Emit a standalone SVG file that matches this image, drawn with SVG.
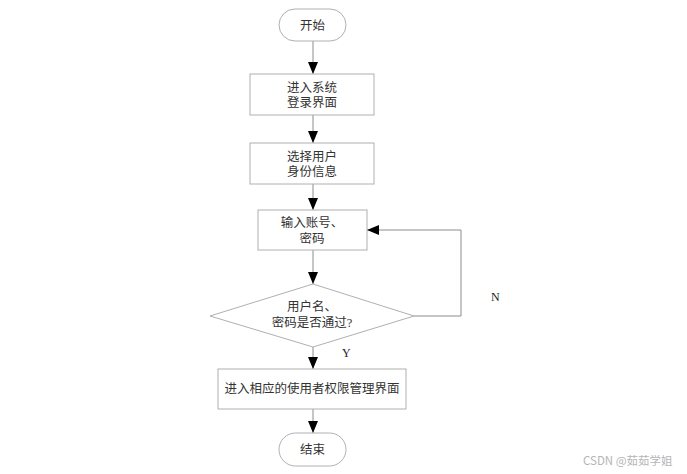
<svg xmlns="http://www.w3.org/2000/svg" width="687" height="474" viewBox="0 0 687 474">
<style>
.n{fill:#fff;stroke:#b0b0b0;stroke-width:1}
.t{font-family:"Liberation Serif","Noto Sans CJK SC",serif;font-size:12.5px;fill:#333;text-anchor:middle}
.c{fill:none;stroke:#8c8c8c;stroke-width:1}
.l{font-family:"Liberation Serif",serif;font-size:12px;fill:#222}
</style>
<defs>
<marker id="ah" viewBox="0 0 12 10" refX="12" refY="5" markerWidth="12" markerHeight="10" markerUnits="userSpaceOnUse" orient="auto">
<path d="M0,0 L12,5 L0,10 Z" fill="#000"/>
</marker>
</defs>
<rect width="687" height="474" fill="#fff"/>
<g id="connectors">
<line class="c" x1="313" y1="41" x2="313" y2="74" marker-end="url(#ah)"/>
<line class="c" x1="313" y1="115" x2="313" y2="143" marker-end="url(#ah)"/>
<line class="c" x1="313" y1="184" x2="313" y2="210" marker-end="url(#ah)"/>
<line class="c" x1="313" y1="250" x2="313" y2="284" marker-end="url(#ah)"/>
<line class="c" x1="313" y1="347" x2="313" y2="369" marker-end="url(#ah)"/>
<line class="c" x1="313" y1="409" x2="313" y2="433" marker-end="url(#ah)"/>
<polyline class="c" points="414,316 461,316 461,230 367,230" marker-end="url(#ah)"/>
<text class="l" x="491" y="301">N</text>
<text class="l" x="342" y="357">Y</text>
</g>
<g id="start">
<rect class="n" x="279" y="9" width="67" height="32" rx="16" ry="16"/>
<text class="t" x="312.5" y="29.5">开始</text>
</g>
<g id="login">
<rect class="n" x="250" y="74" width="124" height="41"/>
<text class="t" x="312" y="92">进入系统</text>
<text class="t" x="312" y="107">登录界面</text>
</g>
<g id="select">
<rect class="n" x="250" y="143" width="124" height="41"/>
<text class="t" x="312" y="161">选择用户</text>
<text class="t" x="312" y="176">身份信息</text>
</g>
<g id="input">
<rect class="n" x="258" y="210" width="109" height="40"/>
<text class="t" x="312" y="227">输入账号、</text>
<text class="t" x="312" y="243">密码</text>
</g>
<g id="check">
<polygon class="n" points="313,284 414,316 313,347 210,316"/>
<text class="t" x="312" y="311">用户名、</text>
<text class="t" x="312" y="327">密码是否通过?</text>
</g>
<g id="enter">
<rect class="n" x="218" y="369" width="188" height="40"/>
<text class="t" x="312" y="393">进入相应的使用者权限管理界面</text>
</g>
<g id="end">
<rect class="n" x="279" y="433" width="67" height="33" rx="16.5" ry="16.5"/>
<text class="t" x="312.5" y="454">结束</text>
</g>
<text x="583" y="465" font-family="'Noto Sans CJK SC',sans-serif" font-size="11.5" fill="#b5b5b5">CSDN @茹茹学姐</text>
</svg>
